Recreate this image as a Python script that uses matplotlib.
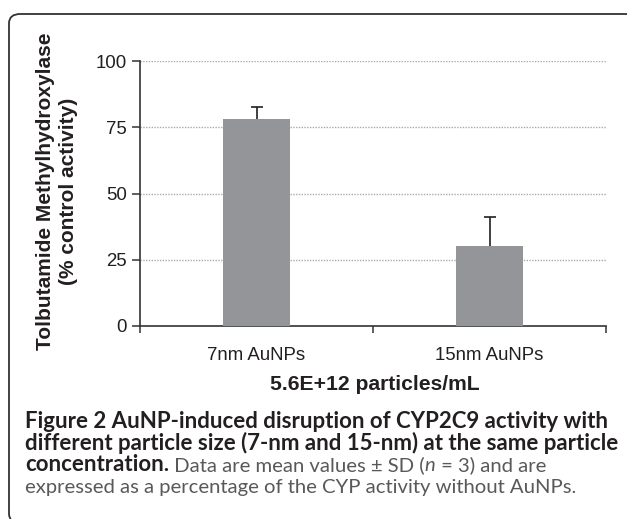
import matplotlib
matplotlib.use("Agg")
import matplotlib.pyplot as plt
from matplotlib.patches import FancyBboxPatch

categories = ["7nm AuNPs", "15nm AuNPs"]
values = [78.0, 30.2]
errors = [4.8, 11.0]
yticks = [0, 25, 50, 75, 100]

W, H = 627, 519
fig = plt.figure(figsize=(W / 100, H / 100), dpi=100)
fig.patch.set_facecolor("white")

def fx(px):
    return px / W

def fy(py):
    return 1 - py / H

# rounded frame
frame = FancyBboxPatch((fx(9), fy(523)), fx(640) - fx(9), fy(14) - fy(523),
                       boxstyle="round,pad=0,rounding_size=0.018",
                       transform=fig.transFigure, fill=False,
                       edgecolor="#333333", linewidth=1.3, clip_on=False)
fig.patches.append(frame)

ax = fig.add_axes([fx(140), fy(326), fx(606) - fx(140), fy(61) - fy(326)])
x = list(range(len(categories)))
ax.bar(x, values, width=0.29, color="#939598", zorder=3)
tops = [v + e for v, e in zip(values, errors)]
ax.errorbar(x, values, yerr=[[0] * len(errors), errors], fmt="none",
            ecolor="#231f20", elinewidth=1.2, capsize=0, zorder=4)
ax.plot(x, tops, linestyle="none", marker="_", markersize=8.6,
        markeredgewidth=1.2, color="#231f20", zorder=4)

ax.set_xlim(-0.5, len(categories) - 0.5)
ax.set_ylim(0, 100)
ax.set_yticks(yticks)
ax.set_yticklabels([str(t) for t in yticks], family="Liberation Sans", fontsize=13.4, color="#231f20")
ax.set_xticks([-0.5, 0.5, 1.5])
ax.set_xticklabels([])
ax.set_xticks(x, minor=True)
ax.set_xticklabels(categories, minor=True, family="Liberation Sans", fontsize=13.4, color="#231f20")
ax.tick_params(axis="x", which="major", length=5, width=1.1, color="#333333", direction="out")
ax.tick_params(axis="x", which="minor", length=0, pad=15)
ax.tick_params(axis="y", length=5.5, width=1.1, color="#333333", pad=4)

for y in yticks[1:]:
    ax.axhline(y, color="#aaaaaa", linewidth=1.0, linestyle=(0, (1, 1)), zorder=1)

for s in ["top", "right"]:
    ax.spines[s].set_visible(False)
for s in ["left", "bottom"]:
    ax.spines[s].set_color("#333333")
    ax.spines[s].set_linewidth(1.2)

fig.text(fx(375), fy(385), "5.6E+12 particles/mL", family="Liberation Sans",
         fontweight="bold", fontsize=15.2, ha="center", va="center", color="#231f20")
fig.text(fx(57), fy(191), "Tolbutamide Methylhydroxylase\n(% control activity)",
         family="Liberation Sans", fontweight="bold", fontsize=15, rotation=90,
         ha="center", va="center", multialignment="center", color="#231f20",
         linespacing=1.25)

# caption
cap_fam = "Lato"
bold_c = "#231f20"
reg_c = "#58595b"
fig.canvas.draw()
r = fig.canvas.get_renderer()

def width_at10(txt, weight):
    p = fig.text(0, 0, txt, family=cap_fam, fontsize=10, fontweight=weight)
    w = p.get_window_extent(renderer=r).width
    p.remove()
    return w

line1 = "Figure 2 AuNP-induced disruption of CYP2C9 activity with"
line4 = "expressed as a percentage of the CYP activity without AuNPs."
bold_size = 10 * 583 / width_at10(line1, "bold")
reg_size = 10 * 552 / width_at10(line4, "normal")

def seq(parts, px, py):
    cur = px
    for txt, weight, style, col in parts:
        size = bold_size if weight == "bold" else reg_size
        t = fig.text(fx(cur), fy(py), txt, family=cap_fam, fontsize=size,
                     fontweight=weight, fontstyle=style, color=col, va="baseline", ha="left")
        bb = t.get_window_extent(renderer=r)
        cur += bb.width

seq([(line1, "bold", "normal", bold_c)], 25, 428)
seq([("different particle size (7-nm and 15-nm) at the same particle", "bold", "normal", bold_c)], 25, 450)
seq([("concentration.", "bold", "normal", bold_c),
     (" Data are mean values \u00b1 SD (", "normal", "normal", reg_c),
     ("n", "normal", "italic", reg_c),
     (" = 3) and are", "normal", "normal", reg_c)], 25, 471)
seq([(line4, "normal", "normal", reg_c)], 25, 493)

fig.savefig("out.png", dpi=100, facecolor="white")
